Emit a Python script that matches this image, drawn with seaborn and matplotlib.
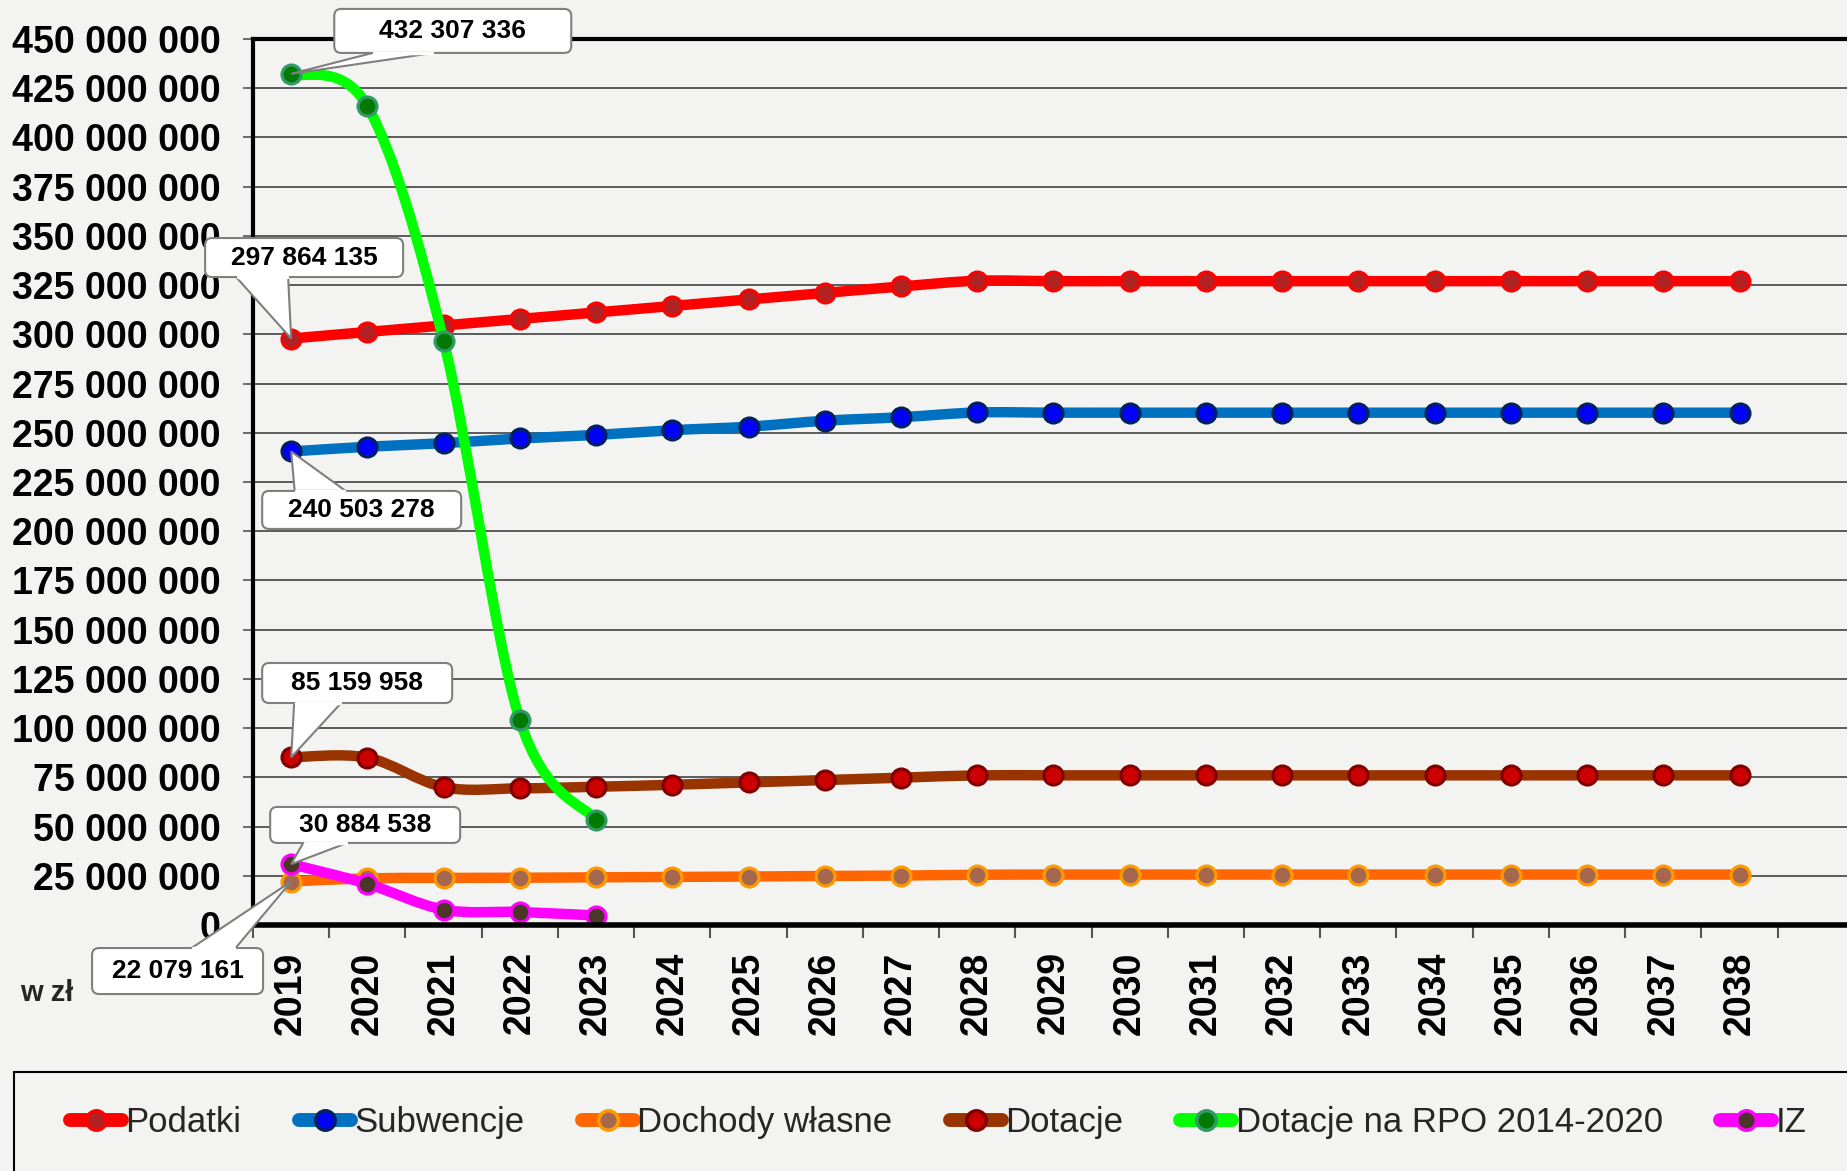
import numpy as np
import pandas as pd
import matplotlib
matplotlib.use("Agg")
import matplotlib.pyplot as plt
import matplotlib.transforms as mtransforms
from matplotlib.patches import FancyBboxPatch, PathPatch, Rectangle, Polygon
from matplotlib.path import Path
from matplotlib.lines import Line2D
from matplotlib.ticker import FuncFormatter, FixedLocator
import seaborn as sns

# ---------- DATA (mln zł) ----------
years = list(range(2019, 2039))

podatki = [297.864135, 301.2, 304.5, 307.8, 311.1, 314.4, 317.7, 321.0, 324.3, 327.2,
           327.0, 327.0, 327.0, 327.0, 327.0, 327.0, 327.0, 327.0, 327.0, 327.0]
subwencje = [240.503278, 242.9, 244.7, 247.1, 248.9, 251.3, 253.1, 256.1, 257.9, 260.3,
             260.2, 260.2, 260.2, 260.2, 260.2, 260.2, 260.2, 260.2, 260.2, 260.2]
dochody = [22.079161, 23.7, 23.9, 24.0, 24.2, 24.4, 24.6, 24.9, 25.1, 25.5,
           25.6, 25.6, 25.6, 25.6, 25.6, 25.6, 25.6, 25.6, 25.6, 25.6]
dotacje = [85.159958, 85.0, 70.0, 69.4, 70.2, 71.2, 72.4, 73.6, 74.8, 76.0,
           76.0, 76.0, 76.0, 76.0, 76.0, 76.0, 76.0, 76.0, 76.0, 76.0]
rpo = [432.307336, 415.9, 296.8, 104.1, 53.3]
iz = [30.884538, 20.9, 7.8, 6.6, 4.8]

names = ["Podatki", "Subwencje", "Dochody własne", "Dotacje", "Dotacje na RPO 2014-2020", "IZ"]
series = [podatki, subwencje, dochody, dotacje, rpo, iz]

# line colour, marker face, marker edge
styles = [
    ("#FF0000", "#B22222", "#FF0000"),
    ("#0070C0", "#0000FF", "#002060"),
    ("#FF6600", "#A5684F", "#FF9900"),
    ("#993300", "#CC0000", "#800000"),
    ("#00FF00", "#007A00", "#339966"),
    ("#FF00FF", "#4A3728", "#FF00FF"),
]

# callouts: series index, box centre (x idx, y mln), box size px,
# pointer base edge and its x-span in px from box centre
callouts = [
    (4, (2.12, 454.1), (237, 44), "bottom", (-80, -19)),
    (0, (0.17, 339.0), (198, 39), "bottom", (-68, -16)),
    (1, (0.925, 210.8), (199, 38), "top", (-67, -16)),
    (3, (0.866, 122.9), (190, 40), "bottom", (-63, -16)),
    (5, (0.971, 50.8), (190, 36), "bottom", (-62, -18)),
    (2, (-1.49, -23.4), (171, 46), "top", (14, 58)),
]

BG = "#F3F3F1"
BORDER = "#7F7F7F"


def fmt(v):
    return f"{v:,.0f}".replace(",", " ")


def smooth_path(xs, ys):
    # Excel-like smoothed line: cubic Bezier through the data points
    pts = np.column_stack([xs, ys]).astype(float)
    n = len(pts)
    verts = [pts[0]]
    codes = [Path.MOVETO]
    for i in range(n - 1):
        p0 = pts[max(i - 1, 0)]
        p1 = pts[i]
        p2 = pts[i + 1]
        p3 = pts[min(i + 2, n - 1)]
        verts += [p1 + (p2 - p0) / 6, p2 - (p3 - p1) / 6, p2]
        codes += [Path.CURVE4] * 3
    return Path(verts, codes)


sns.set_theme(style="white")
plt.rcParams["font.family"] = ["Liberation Sans", "DejaVu Sans"]

fig = plt.figure(figsize=(18.47, 11.71), dpi=100, facecolor=BG)
ax = fig.add_axes([0.137, 0.2101, 0.863, 0.7566], facecolor=BG)

for k, (name, vals) in enumerate(zip(names, series)):
    line_c, face_c, edge_c = styles[k]
    df = pd.DataFrame({"idx": np.arange(len(vals)), "value": vals})
    ax.add_patch(PathPatch(smooth_path(df["idx"], df["value"]), fill=False,
                           edgecolor=line_c, lw=7.5, capstyle="round",
                           joinstyle="round", zorder=5 + 2 * k))
    sns.scatterplot(data=df, x="idx", y="value", ax=ax, color=face_c,
                    edgecolor=edge_c, linewidth=2.3, s=185, zorder=6 + 2 * k,
                    legend=False)

# ---------- AXES ----------
ax.set_xlim(-0.5, 20.41)
ax.set_ylim(0, 450)
ax.set_xlabel("")
ax.set_ylabel("")

ax.yaxis.set_major_locator(FixedLocator(np.arange(0, 451, 25)))
ax.yaxis.set_major_formatter(FuncFormatter(lambda v, p: fmt(v * 1e6)))
ax.xaxis.set_major_locator(FixedLocator(np.arange(len(years))))
ax.xaxis.set_minor_locator(FixedLocator(np.arange(len(years) + 1) - 0.5))
ax.set_xticklabels([str(y) for y in years], rotation=90, fontsize=27,
                   fontweight="bold")
for lab in ax.get_yticklabels():
    lab.set_fontsize(27)
    lab.set_fontweight("bold")

ax.tick_params(axis="y", which="major", left=True, length=7.5, width=1.3,
               color="#606060", pad=16, labelsize=27, labelcolor="black")
ax.tick_params(axis="x", which="major", bottom=True, length=0, pad=19,
               labelcolor="black")
ax.tick_params(axis="x", which="minor", bottom=True, length=9, width=1.5,
               color="#555555")

ax.yaxis.grid(True, color="#505050", lw=1.3)
ax.xaxis.grid(False)
ax.set_axisbelow(True)

ax.spines["right"].set_visible(False)
ax.spines["left"].set_color("black")
ax.spines["left"].set_linewidth(3)
ax.spines["top"].set_color("black")
ax.spines["top"].set_linewidth(3)
ax.spines["bottom"].set_color("black")
ax.spines["bottom"].set_linewidth(4)
for s in ax.spines.values():
    s.set_zorder(30)

# ---------- CALLOUTS ----------
for k, (cx, cy), (bw, bh), side, (bx0, bx1) in callouts:
    y0 = series[k][0]
    tr = mtransforms.IdentityTransform() + mtransforms.ScaledTranslation(cx, cy, ax.transData)
    tip = ax.transData.transform((0, y0)) - ax.transData.transform((cx, cy))
    ey = -bh / 2 if side == "bottom" else bh / 2
    ax.add_patch(Polygon([(bx0, ey), (bx1, ey), tuple(tip)], closed=True,
                         transform=tr, facecolor="white", edgecolor=BORDER,
                         lw=1.5, clip_on=False, zorder=40))
    ax.add_patch(FancyBboxPatch((-bw / 2, -bh / 2), bw, bh,
                                boxstyle="round,pad=0,rounding_size=7",
                                transform=tr, facecolor="white", edgecolor=BORDER,
                                lw=1.5, clip_on=False, zorder=41))
    ax.add_line(Line2D([bx0 + 1.5, bx1 - 1.5], [ey, ey], transform=tr,
                       color="white", lw=2.5, clip_on=False, zorder=41.5))
    ax.text(cx, cy, fmt(y0 * 1e6), ha="center", va="center", fontsize=19,
            fontweight="bold", color="black", zorder=42, clip_on=False)

fig.text(0.0254, 0.152, "w zł", fontsize=21, fontweight="bold",
         ha="center", va="center")

# ---------- LEGEND ----------
fig.patches.append(Rectangle((14 / 1847, -0.01), 1.2, 0.0945, fill=False,
                             edgecolor="black", lw=1.5,
                             transform=fig.transFigure, figure=fig))
handles = [Line2D([], [], color=lc, lw=10, marker="o", markersize=14,
                  markerfacecolor=fc, markeredgecolor=ec, markeredgewidth=2.5)
           for lc, fc, ec in styles]
fig.legend(handles, names, loc="center", bbox_to_anchor=(0.508, 0.041), ncol=6,
           frameon=False, fontsize=25, handlelength=1.5, handletextpad=0.1,
           columnspacing=1.65)

fig.savefig("out.png", dpi=100, facecolor=BG)
